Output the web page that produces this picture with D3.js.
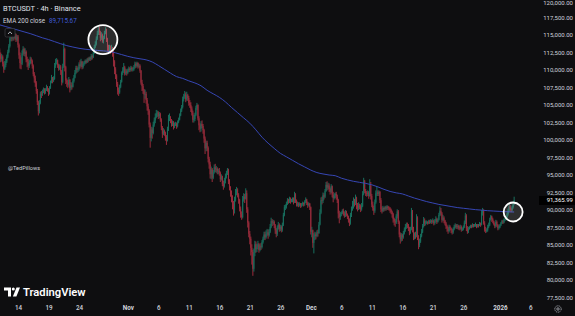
<!DOCTYPE html>
<html><head><meta charset="utf-8">
<script src="https://cdn.jsdelivr.net/npm/d3@7"></script>
<style>html,body{margin:0;padding:0;background:#0f0f0f;overflow:hidden}svg{display:block}</style>
</head><body><svg id="c" width="575" height="316"></svg>
<script>
// ---------- DATA (BTCUSDT 4h, prices in thousands of USD) ----------
const startTime = "2025-10-11T00:00:00Z";   // first 4h bar
const firstOpen = 112.9;
const close = [
112.2,111.6,111.9,110.9,110.2,110.7, 111.2,111.9,112.6,113.4,114.5,115.0, 114.5,115.0,114.6,115.1,114.3,114.8,
113.6,112.1,111.0,110.9,112.4,113.0, 112.3,112.6,111.5,111.2,110.6,111.0, 111.5,111.3,110.6,109.4,108.8,108.1,
107.0,105.4,104.1,105.3,106.6,106.5, 106.9,107.2,106.8,107.1,107.5,107.2, 106.7,107.4,108.2,108.9,108.5,108.7,
110.6,111.2,111.4,110.7,110.2,110.5, 109.8,108.3,110.5,113.0,110.4,108.5, 108.2,107.9,108.6,107.4,107.8,107.6,
108.4,108.9,109.6,110.3,110.0,110.1, 110.8,110.6,111.2,110.4,110.9,111.0, 111.3,111.1,111.5,111.4,111.7,111.6,
112.0,111.8,112.4,113.3,113.7,114.5, 115.2,115.9,115.4,114.6,115.0,114.1, 114.6,115.3,115.8,114.4,113.3,112.9,
113.2,112.9,113.1,112.6,111.2,110.1, 109.2,108.0,107.1,106.8,107.6,108.3, 109.6,109.9,110.4,109.5,109.8,109.6,
109.9,110.2,110.0,110.3,110.1,110.1, 110.4,110.9,110.6,111.0,110.5,110.6, 109.9,108.2,107.7,107.1,106.5,106.6,
105.7,104.8,104.2,102.2,100.3,101.5, 101.0,102.2,102.8,103.3,103.8,103.9, 103.4,103.7,102.9,101.8,100.9,101.3,
101.0,100.4,99.9,101.6,103.0,103.3, 102.8,102.3,102.5,101.9,102.2,102.3, 102.0,102.6,102.9,103.5,104.2,104.7,
105.8,106.2,106.5,105.8,106.4,106.0, 105.3,105.0,104.5,103.9,102.9,103.0, 103.6,104.6,105.0,103.1,102.1,101.6,
102.3,102.0,101.4,100.2,98.8,99.6, 98.9,97.3,96.5,95.1,95.8,94.6, 95.4,96.1,95.8,95.9,95.5,95.6,
95.3,94.4,94.8,93.7,93.4,94.2, 94.8,95.3,95.8,94.1,93.2,92.2, 91.6,90.9,90.0,91.5,92.4,92.9,
92.1,91.4,90.2,89.4,89.0,91.5, 91.9,91.6,92.4,90.1,88.2,86.6, 85.9,84.6,84.0,81.6,83.9,85.1,
84.4,84.7,85.1,84.3,84.8,84.7, 85.4,85.9,86.5,86.1,86.6,86.8, 86.4,86.9,87.6,88.4,88.2,88.3,
87.8,87.1,86.6,87.5,87.9,87.3, 87.6,87.2,87.9,89.3,90.4,90.5, 90.9,91.4,91.2,91.7,91.3,91.4,
91.6,91.1,92.2,91.3,90.9,90.9, 90.7,90.9,90.6,90.8,91.0,90.8, 91.2,91.5,91.0,90.7,90.9,90.4,
86.9,87.1,85.3,86.2,86.5,86.3, 86.8,86.7,87.9,89.6,91.4,91.3, 92.1,91.9,92.7,93.6,93.2,93.5,
93.0,92.6,93.4,92.2,91.7,92.1, 92.3,91.9,91.4,89.5,89.0,89.4, 89.6,89.9,89.5,89.2,89.8,89.3,
89.0,88.6,88.1,89.3,90.1,90.4, 91.4,90.9,91.7,90.8,90.3,90.6, 90.5,90.1,90.6,92.3,94.1,92.7,
92.4,92.3,92.5,92.0,93.5,92.0, 90.8,90.3,89.9,91.1,92.4,92.5, 92.3,92.6,91.4,90.1,89.9,90.3,
90.1,90.4,90.2,90.5,90.3,90.2, 90.0,89.7,89.4,88.7,88.4,88.2, 89.1,89.8,88.3,86.5,85.8,86.4,
86.1,86.7,87.2,87.6,87.9,87.8, 87.4,86.8,87.3,89.8,87.2,86.1, 86.5,86.3,88.9,86.0,85.0,85.5,
86.3,86.9,87.7,88.5,88.1,88.2, 88.3,88.1,88.4,88.2,88.5,88.3, 88.5,88.1,88.4,88.7,88.3,88.6,
89.3,89.9,89.5,88.6,88.9,88.5, 88.1,87.7,87.4,87.0,87.6,87.4, 87.1,86.8,87.3,87.6,87.8,87.6,
87.7,87.5,87.4,87.6,87.2,87.3, 87.6,88.2,89.2,87.4,86.9,87.3, 87.5,87.7,87.6,87.9,87.7,87.8,
87.9,87.6,87.8,87.7,88.0,87.9, 89.6,89.9,88.1,87.2,87.0,87.1, 87.6,87.9,88.6,89.1,88.7,88.4,
88.0,87.7,88.3,87.9,87.4,87.5, 87.8,88.1,88.4,88.2,88.6,88.7, 88.9,89.4,89.9,90.5,90.1,90.0,
90.4,90.9,91.36599
];
const high = [
113.1,112.5,112.3,112.1,111.2,111.3, 111.6,112.2,112.9,113.7,114.8,115.3, 115.1,115.3,115.2,115.3,115.2,115.0,
115.0,113.8,112.5,111.8,112.8,113.4, 113.2,113.1,112.8,111.9,111.6,111.4, 111.9,111.8,111.5,110.8,109.7,109.2,
108.4,107.3,105.6,105.7,106.9,107.0, 107.2,107.5,107.4,107.4,107.9,107.7, 107.4,107.7,108.5,109.3,109.0,109.1,
111.0,111.6,111.7,111.5,110.9,110.8, 110.7,110.0,110.9,113.9,113.2,110.6, 108.8,108.6,109.0,108.7,108.3,108.2,
108.8,109.3,110.0,110.6,110.6,110.4, 111.1,111.4,111.6,111.3,111.2,111.3, 111.5,111.5,111.7,111.8,111.9,111.9,
112.3,112.2,112.6,113.6,114.1,114.8, 115.6,116.4,116.2,115.6,115.4,115.2, 114.9,115.6,116.1,115.9,114.6,113.6,
113.6,113.5,113.6,113.3,112.7,111.4, 110.4,109.4,108.3,107.5,107.9,108.6, 109.8,110.4,111.0,110.6,110.2,110.1,
110.2,110.5,110.4,110.6,110.5,110.4, 110.7,111.2,111.1,111.2,111.1,110.9, 110.8,110.0,108.6,108.0,107.3,107.2,
106.9,106.0,105.2,104.4,102.5,101.9, 101.8,102.6,103.2,103.8,104.3,104.2, 104.1,104.0,103.9,103.1,102.0,101.7,
101.5,101.2,100.7,101.9,103.6,103.8, 103.4,103.0,102.8,102.7,102.5,102.6, 102.5,102.8,103.2,103.8,104.5,105.0,
106.2,106.6,107.0,106.8,106.9,106.6, 106.3,105.7,105.4,104.8,104.2,103.6, 103.9,104.9,105.3,105.1,103.4,102.4,
102.7,102.8,102.3,101.6,100.5,99.9, 99.9,99.1,97.6,96.9,96.2,96.0, 95.7,96.5,96.6,96.3,96.1,95.9,
96.0,95.5,95.1,94.9,94.2,94.6, 95.2,95.6,96.0,95.9,94.4,93.4, 92.8,92.1,91.3,91.9,93.0,93.3,
93.1,92.4,91.6,90.5,89.8,92.0, 92.4,92.3,93.1,92.8,90.4,88.4, 87.0,86.2,85.1,84.3,84.5,85.6,
85.5,85.2,85.6,85.3,85.1,85.3, 85.7,86.2,86.9,86.9,87.1,87.3, 87.2,87.3,88.0,88.9,88.7,88.6,
88.5,88.0,87.4,87.8,88.3,88.1, 87.9,87.8,88.2,89.6,90.7,90.8, 91.2,91.7,91.6,91.9,91.8,91.6,
91.8,91.8,92.6,92.4,91.5,91.2, 91.1,91.1,91.0,91.0,91.2,91.1, 91.4,91.8,91.6,91.2,91.1,91.0,
90.5,87.6,87.2,86.7,86.9,86.8, 87.1,87.2,88.3,90.1,91.8,91.9, 92.5,92.4,93.0,94.0,94.1,93.9,
93.8,93.2,93.7,93.5,92.6,92.4, 92.5,92.6,92.2,91.6,89.9,89.7, 89.8,90.1,90.2,89.8,90.0,89.9,
89.5,89.2,88.8,89.6,90.5,91.3, 91.8,91.6,92.2,91.9,91.0,91.1, 90.9,90.8,91.0,92.7,94.6,94.3,
93.0,92.7,92.8,92.7,94.4,94.0, 92.3,91.2,90.6,91.5,92.8,93.4, 92.8,92.8,92.7,91.7,90.5,90.6,
90.4,90.6,90.6,90.7,90.6,90.5, 90.4,90.2,89.9,89.6,88.9,88.7, 89.4,90.1,90.0,88.5,86.8,86.7,
86.6,87.0,87.5,88.0,88.2,88.2, 88.0,87.6,87.6,90.3,90.0,87.6, 86.8,86.9,89.4,89.1,86.4,85.9,
86.6,87.3,88.0,89.0,88.8,88.5, 88.5,88.4,88.6,88.6,88.7,88.6, 88.8,88.6,88.7,89.1,88.9,88.8,
89.6,90.5,90.3,89.7,89.3,89.1, 88.6,88.3,87.9,87.6,87.9,87.8, 87.5,87.3,87.5,87.9,88.1,88.0,
88.0,87.9,87.8,87.9,87.8,87.5, 87.8,88.5,89.6,89.4,87.7,87.6, 87.7,87.9,87.9,88.1,88.0,88.0,
88.2,88.0,88.0,88.0,88.3,88.2, 90.0,90.3,90.1,88.4,87.6,87.4, 87.9,88.2,88.9,89.3,89.2,88.9,
88.5,88.2,88.6,88.5,88.0,87.8, 88.0,88.3,88.6,88.6,88.8,88.9, 89.1,89.6,90.2,90.9,90.7,90.3,
90.6,91.2,91.9
];
const low = [
111.8,111.1,111.2,110.5,109.6,110.0, 110.4,111.0,111.7,112.4,113.2,114.1, 114.1,114.2,114.2,114.4,114.0,114.1,
113.2,111.6,110.2,110.1,110.7,112.1, 112.0,111.9,111.1,110.4,110.0,110.3, 110.8,110.9,110.2,109.1,108.2,107.6,
106.6,105.0,103.5,103.8,105.1,106.0, 106.3,106.7,106.5,106.6,107.0,106.9, 106.3,106.5,107.3,108.1,108.1,108.3,
108.6,110.3,110.8,110.3,109.9,110.0, 109.3,107.8,108.1,110.3,109.8,108.0, 107.6,107.4,107.6,106.8,107.1,107.2,
107.5,108.2,108.8,109.4,109.6,109.7, 109.9,110.2,110.4,110.1,110.2,110.6, 110.8,110.9,111.0,111.1,111.3,111.3,
111.4,111.5,111.7,112.3,113.1,113.5, 114.3,115.0,115.0,114.1,114.3,113.9, 113.8,114.4,115.1,114.0,112.7,112.5,
112.6,112.3,112.6,111.9,110.5,109.4, 108.7,107.6,106.5,106.3,106.6,107.4, 108.2,109.3,109.6,109.2,109.3,109.2,
109.4,109.7,109.7,109.8,109.8,109.8, 109.9,110.2,110.3,110.4,110.2,110.3, 109.6,107.9,107.0,106.6,105.3,105.9,
105.2,104.2,103.6,101.8,98.9,99.8, 100.2,100.8,101.9,102.4,103.1,103.3, 103.0,103.1,102.6,101.4,100.3,100.7,
100.6,99.9,99.3,99.8,101.3,102.7, 102.4,101.9,102.0,101.5,101.7,102.0, 101.6,101.8,102.4,102.8,103.4,104.0,
104.5,105.5,105.9,105.4,105.6,105.6, 104.9,104.6,104.0,103.5,102.5,102.5, 102.7,103.4,104.3,102.8,101.4,101.1,
101.2,101.7,100.9,99.6,98.0,98.4, 98.4,96.8,95.9,94.5,94.4,94.0, 94.4,95.2,95.4,95.3,95.1,95.1,
94.9,94.0,94.2,93.4,92.9,93.2, 93.8,94.5,95.0,93.7,92.8,91.9, 91.1,90.1,89.2,89.5,91.2,92.1,
91.8,90.9,89.8,88.9,88.6,88.8, 91.2,91.0,91.5,89.6,87.5,86.1, 85.1,83.5,82.2,80.6,81.2,83.4,
83.9,84.0,84.4,83.9,84.1,84.3, 84.5,85.2,85.7,85.7,85.9,86.3, 85.9,86.2,86.7,87.4,87.7,87.9,
87.4,86.6,86.1,86.3,87.2,86.9, 87.0,86.8,86.9,87.7,89.1,90.0, 90.2,90.7,90.9,91.0,90.9,91.1,
91.1,90.8,91.0,91.0,90.5,90.5, 90.4,90.5,90.3,90.4,90.6,90.5, 90.6,91.0,90.7,90.3,90.5,90.0,
86.5,86.1,84.6,83.8,85.7,85.8, 86.1,86.2,86.6,87.8,89.4,90.8, 91.0,91.5,91.7,92.6,92.8,92.9,
92.6,92.2,92.4,91.8,91.1,91.5, 91.7,91.5,91.0,88.8,88.1,88.6, 89.1,89.4,89.2,88.9,89.0,89.1,
88.7,88.2,87.7,87.9,89.0,89.9, 90.2,90.5,90.7,90.1,89.8,90.0, 90.1,89.7,89.9,90.4,92.1,92.4,
92.0,91.9,92.0,91.6,91.9,91.5, 90.4,89.9,89.3,89.6,90.9,92.0, 92.0,92.0,91.0,89.7,89.5,89.7,
89.8,89.9,89.9,90.0,90.0,89.9, 89.6,89.4,88.9,88.2,87.8,87.6, 88.0,88.8,88.0,86.1,85.2,85.5,
85.6,85.9,86.5,86.9,87.3,87.4, 87.0,86.4,86.6,87.1,86.8,85.7, 85.8,85.9,86.1,85.7,84.4,84.7,
85.3,86.1,86.7,87.5,87.7,87.8, 88.0,87.9,88.0,88.0,88.1,88.0, 88.1,87.8,87.9,88.2,88.0,88.2,
88.5,89.1,89.2,88.2,88.4,88.1, 87.8,87.3,86.9,86.6,86.8,87.1, 86.7,86.5,86.6,87.1,87.4,87.3,
87.3,87.2,87.1,87.2,86.9,87.0, 87.1,87.4,88.0,87.0,86.6,86.7, 87.2,87.4,87.4,87.5,87.5,87.6,
87.6,87.4,87.5,87.5,87.7,87.6, 87.8,89.2,87.9,86.9,86.7,86.8, 86.9,87.4,87.7,88.5,88.3,88.1,
87.8,87.4,87.5,87.6,87.1,87.2, 87.4,87.7,88.0,88.0,88.1,88.4, 88.5,88.8,89.2,89.7,89.9,89.7,
89.8,90.2,90.7
];
// EMA 200 (close) at 00:00 UTC of each day, Oct 11 .. Jan 3 (USD)
const emaDaily = [
116450,116200,115950,115700,115450,115200,114900,114600,114350,114050,113750,113480,113280,113100,
112970,112880,112800,112730,112650,112450,112200,111950,111750,111600,111450,111150,110650,110100,
109550,109050,108800,108450,108150,107750,107100,106600,106100,105450,104650,103900,103150,102400,
101450,100400,99550,98800,98100,97600,97100,96600,96150,95700,95350,95150,95000,94900,94550,94300,
94100,93950,93800,93600,93300,92950,92650,92450,92300,92000,91700,91450,91200,91000,90800,90650,
90500,90350,90250,90150,90050,89980,89900,89850,89800,89750,89720
];
const emaLast = 89715.67;
const lastPrice = 91365.99;
const priceTicks = [77500,80000,82500,85000,87500,90000,92500,95000,97500,100000,102500,105000,107500,110000,112500,115000,117500,120000];
const dateTicks = ["2025-10-14","2025-10-19","2025-10-24","2025-11-01","2025-11-06","2025-11-11","2025-11-16","2025-11-21","2025-11-26","2025-12-01","2025-12-06","2025-12-11","2025-12-16","2025-12-21","2025-12-26","2026-01-01","2026-01-06"];
const dateLabels = ["14","19","24","Nov","6","11","16","21","26","Dec","6","11","16","21","26","2026","6"];
const boldLabels = ["Nov","Dec","2026"];
const title = "BTCUSDT · 4h · Binance";
const emaLabel = "EMA 200 close";
const author = "@TedPillows";

// ---------- DRAW ----------
const W = 575, H = 316, plotR = 537;
const svg = d3.select("#c");
const FONT = "Roboto, 'Liberation Sans', Arial, sans-serif";
svg.append("rect").attr("width", W).attr("height", H).attr("fill", "#0e0e10");

const x = d3.scaleUtc()
  .domain([new Date("2025-10-14T00:00:00Z"), new Date("2026-01-06T00:00:00Z")])
  .range([18, 530.4]);
const y = d3.scaleLinear().domain([77500, 120000]).range([297.5, 0]);
const K = 1000;
const t0 = new Date(startTime).getTime();
const H4 = 4 * 3600 * 1000, DAY = 24 * 3600 * 1000;

const candles = close.map((c, i) => ({
  t: new Date(t0 + i * H4),
  o: (i === 0 ? firstOpen : close[i - 1]) * K,
  c: c * K, h: high[i] * K, l: low[i] * K
}));

svg.append("defs").append("clipPath").attr("id", "plot")
  .append("rect").attr("x", 0).attr("y", 0).attr("width", plotR).attr("height", 300);
const plot = svg.append("g").attr("clip-path", "url(#plot)");

const UP = "#1b8f78", DN = "#c8364a";
const cg = plot.append("g").attr("opacity", 0.75);
cg.selectAll("rect.w").data(candles).join("rect").attr("class", "w")
  .attr("x", d => x(d.t) - 0.5).attr("width", 1)
  .attr("y", d => y(d.h)).attr("height", d => Math.max(0.8, y(d.l) - y(d.h)))
  .attr("fill", d => d.c >= d.o ? UP : DN);
cg.selectAll("rect.b").data(candles).join("rect").attr("class", "b")
  .attr("x", d => x(d.t) - 0.5).attr("width", 1)
  .attr("y", d => y(Math.max(d.o, d.c))).attr("height", d => Math.max(0.8, Math.abs(y(d.o) - y(d.c))))
  .attr("fill", d => d.c >= d.o ? UP : DN);

// EMA line
const emaPts = emaDaily.map((v, i) => ({ t: new Date(t0 + i * DAY), v }));
emaPts.push({ t: candles[candles.length - 1].t, v: emaLast });
plot.append("path").datum(emaPts)
  .attr("d", d3.line().x(d => x(d.t)).y(d => y(d.v)).curve(d3.curveMonotoneX))
  .attr("fill", "none").attr("stroke", "#3646b4").attr("stroke-width", 1);

// highlight circles
const peak = candles.filter(d => d.t >= new Date("2025-10-26T12:00:00Z") && d.t <= new Date("2025-10-29T08:00:00Z"));
const pkT = new Date((peak[0].t.getTime() + peak[peak.length - 1].t.getTime()) / 2);
const pkY = (d3.max(peak, d => d.h) + d3.min(peak, d => d.l)) / 2;
svg.append("circle").attr("cx", x(pkT)).attr("cy", y(pkY)).attr("r", 14.5)
  .attr("fill", "rgba(255,255,255,0.13)").attr("stroke", "#ffffff").attr("stroke-width", 1.8);
const lastC = candles[candles.length - 1];
svg.append("circle").attr("cx", x(lastC.t) - 1).attr("cy", y(emaLast)).attr("r", 9.5)
  .attr("fill", "rgba(255,255,255,0.13)").attr("stroke", "#ffffff").attr("stroke-width", 1.8);

// price axis
const ya = svg.append("g").attr("transform", `translate(573,0)`)
  .call(d3.axisLeft(y).tickValues(priceTicks).tickFormat(d3.format(",.2f")).tickSize(0).tickPadding(0));
ya.select(".domain").remove();
ya.selectAll("text").attr("fill", "#d1d4dc").style("font-family", FONT).style("font-size", "6px")
  .attr("dy", d => d === 120000 ? "0.75em" : "0.32em");

// last price label
const lp = svg.append("g").attr("transform", `translate(0,${y(lastPrice)})`);
lp.append("rect").attr("x", 539).attr("y", -4.5).attr("width", 36).attr("height", 9).attr("fill", "#000000");
lp.append("text").attr("x", 573).attr("y", 0).attr("dy", "0.34em").attr("text-anchor", "end")
  .attr("fill", "#ffffff").style("font-family", FONT).style("font-size", "6px").text(d3.format(",.2f")(lastPrice));

// date axis
const xa = svg.append("g").attr("transform", "translate(0,306)")
  .call(d3.axisBottom(x).tickValues(dateTicks.map(s => new Date(s + "T00:00:00Z")))
    .tickFormat((d, i) => dateLabels[i]).tickSize(0).tickPadding(0));
xa.select(".domain").remove();
xa.selectAll("text").attr("fill", "#d1d4dc").style("font-family", FONT).style("font-size", "6.3px")
  .style("font-weight", (d, i) => boldLabels.includes(dateLabels[i]) ? "700" : "500");

// gear icon
const gear = svg.append("g").attr("transform", "translate(558,309)");
gear.append("circle").attr("r", 3.2).attr("fill", "none").attr("stroke", "#b2b5be").attr("stroke-width", 0.9).attr("stroke-dasharray", "1.2 0.8");
gear.append("circle").attr("r", 1.2).attr("fill", "none").attr("stroke", "#b2b5be").attr("stroke-width", 0.8);

// legend
svg.append("text").attr("x", 3).attr("y", 11).attr("fill", "#e0e3eb")
  .style("font-family", FONT).style("font-size", "7.4px").text(title);
const el = svg.append("text").attr("x", 3).attr("y", 22.5).style("font-family", FONT).style("font-size", "6.3px");
el.append("tspan").attr("fill", "#d1d4dc").text(emaLabel);
el.append("tspan").attr("x", 49).attr("fill", "#3f5bd8").text(d3.format(",.2f")(emaLast));

// collapse button
svg.append("rect").attr("x", 5).attr("y", 28.5).attr("width", 10).attr("height", 8.5).attr("rx", 1.5)
  .attr("fill", "#0e0e10").attr("stroke", "#3a3b40").attr("stroke-width", 0.8);
svg.append("path").attr("d", "M8,34 L10,31.8 L12,34").attr("fill", "none").attr("stroke", "#d1d4dc").attr("stroke-width", 0.8);

// watermark
svg.append("text").attr("x", 8).attr("y", 170).attr("fill", "#d1d4dc")
  .style("font-family", FONT).style("font-size", "5.6px").text(author);

// TradingView logo
const logo = svg.append("g").attr("fill", "#ffffff");
logo.append("path").attr("d", "M4,287.5 H11 V296.5 H8 V290.5 H4 Z");
logo.append("circle").attr("cx", 13.3).attr("cy", 289).attr("r", 1.5);
logo.append("path").attr("d", "M16.5,287.5 H20 L16.4,296.5 H12.9 Z");
svg.append("text").attr("x", 23).attr("y", 296).attr("fill", "#ffffff")
  .style("font-family", FONT).style("font-size", "11.2px").style("font-weight", "600").text("TradingView");
</script></body></html>
